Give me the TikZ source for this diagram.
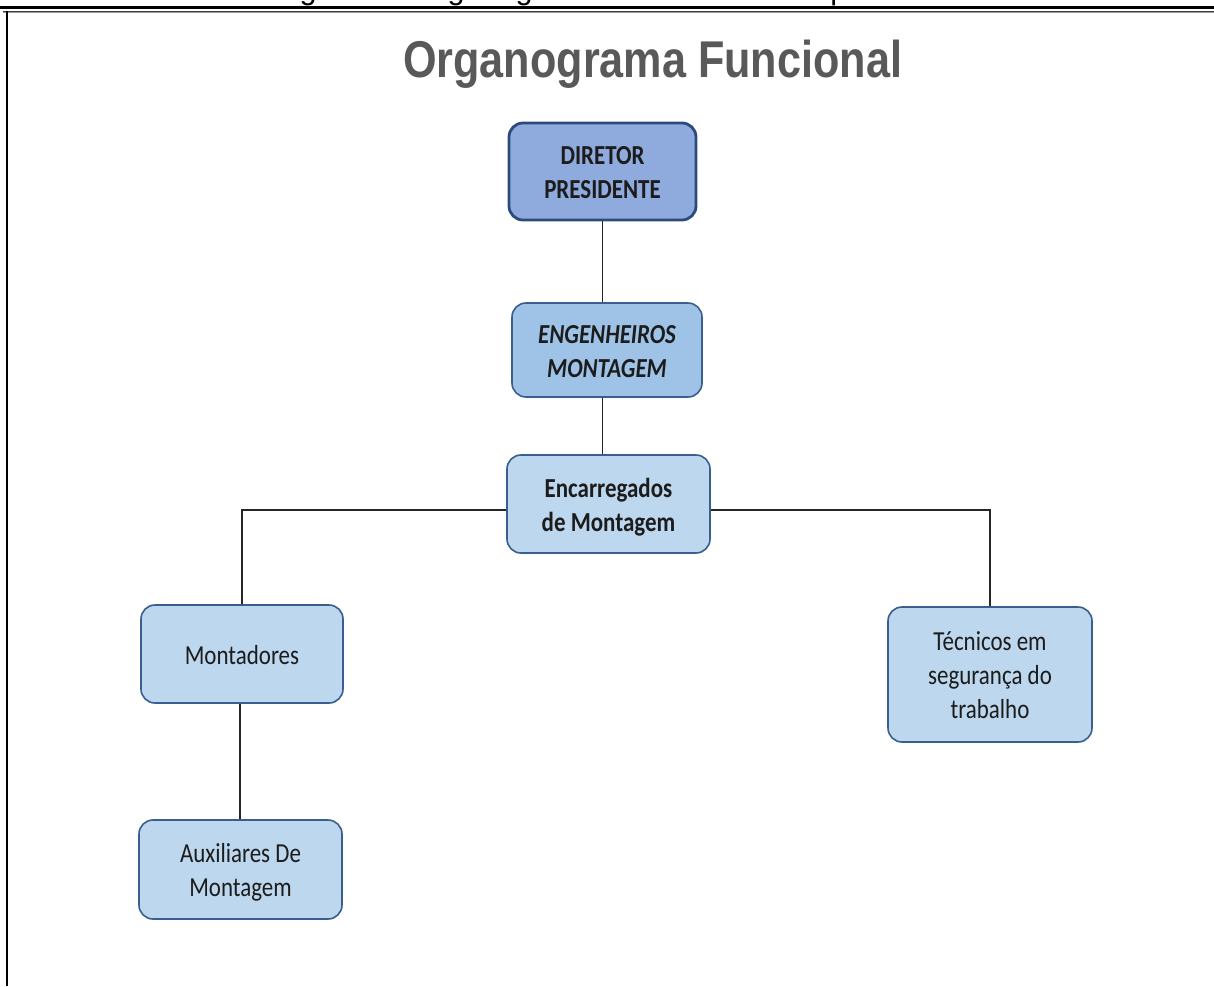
\documentclass[tikz,border=0pt]{standalone}
\usepackage{fontspec}
\usepackage{graphicx}
\setmainfont{Carlito}
\newfontfamily\arialfont{Liberation Sans}

% text in this chart is set slightly condensed and sits a little low in its box
\newcommand{\narrow}[1]{\scalebox{0.835}[1]{#1}}
\newcommand{\boxtext}[1]{\raisebox{-3.5pt}[\height][\depth]{\narrow{\begin{tabular}{@{}c@{}}#1\end{tabular}}}}

\definecolor{topfill}{HTML}{8FAADC}
\definecolor{topedge}{HTML}{2C4B7C}
\definecolor{midfill}{HTML}{9FC3E7}
\definecolor{boxfill}{HTML}{BDD7EE}
\definecolor{boxedge}{HTML}{3A5F8F}
\definecolor{inkdark}{HTML}{1C1C1C}
\definecolor{titlegray}{HTML}{595959}
\definecolor{linkgray}{HTML}{262626}

\tikzset{
  orgbox/.style={draw=boxedge, line width=1.6pt, rounded corners=14pt,
    fill=boxfill, text=inkdark, inner sep=0pt,
    font=\fontsize{27.5}{34}\selectfont},
  topbox/.style={orgbox, fill=topfill, draw=topedge, line width=2.8pt},
  midbox/.style={orgbox, fill=midfill},
  link/.style={draw=linkgray, line width=1.4pt},
  rule/.style={line width=#1},
}

\begin{document}
\begin{tikzpicture}[x=1pt, y=-1pt]
\path[use as bounding box] (0,0) rectangle (1214,986);
\clip (0,0) rectangle (1214,986);
\fill[white] (0,0) rectangle (1214,986);

% caption running off the top edge and the page frame
\node[anchor=base west, inner sep=0pt, text=black,
  font=\arialfont\fontsize{30.6}{36}\selectfont] (caption) at (274,-0.8)
  {Figura 3 - Organograma funcional da Empresa};
\draw[rule=2.2pt, black] (0,7.4) -- (1214,7.4);
\draw[rule=1pt, black!75] (3,11) -- (1214,11);
\draw[rule=1pt, black!40] (3,12.2) -- (1214,12.2);
\draw[rule=2.2pt, black] (7,11) -- (7,986);

% heading
\node[anchor=base west, inner sep=0pt, text=titlegray,
  font=\arialfont\bfseries\fontsize{51.7}{60}\selectfont] (title) at (403,77)
  {\narrow{Organograma Funcional}};

% positions
\node[topbox, minimum width=187pt, minimum height=97pt] (dir) at (602.5,171.5)
  {\boxtext{\bfseries DIRETOR\\\bfseries PRESIDENTE}};
\node[midbox, minimum width=190pt, minimum height=94pt] (eng) at (607,350)
  {\boxtext{\bfseries\itshape ENGENHEIROS\\\bfseries\itshape MONTAGEM}};
\node[orgbox, minimum width=203pt, minimum height=98pt] (enc) at (608.5,504)
  {\boxtext{\bfseries Encarregados\\\bfseries de Montagem}};
\node[orgbox, minimum width=202pt, minimum height=98pt] (mont) at (242,654)
  {\boxtext{Montadores}};
\node[orgbox, minimum width=204pt, minimum height=135pt] (tec) at (990,674.5)
  {\boxtext{Técnicos em\\segurança do\\trabalho}};
\node[orgbox, minimum width=203pt, minimum height=99pt] (aux) at (240.5,869.5)
  {\boxtext{Auxiliares De\\Montagem}};

% reporting lines
\draw[link] (dir.south) -- (dir.south |- eng.north);
\draw[link] (dir.south |- eng.south) -- (dir.south |- enc.north);
\draw[link] ([yshift=-6pt]enc.west) -| (mont.north);
\draw[link] ([yshift=-6pt]enc.east) -| (tec.north);
\draw[link] ([xshift=-2pt]mont.south) -- ([xshift=-0.5pt]aux.north);
\end{tikzpicture}
\end{document}
